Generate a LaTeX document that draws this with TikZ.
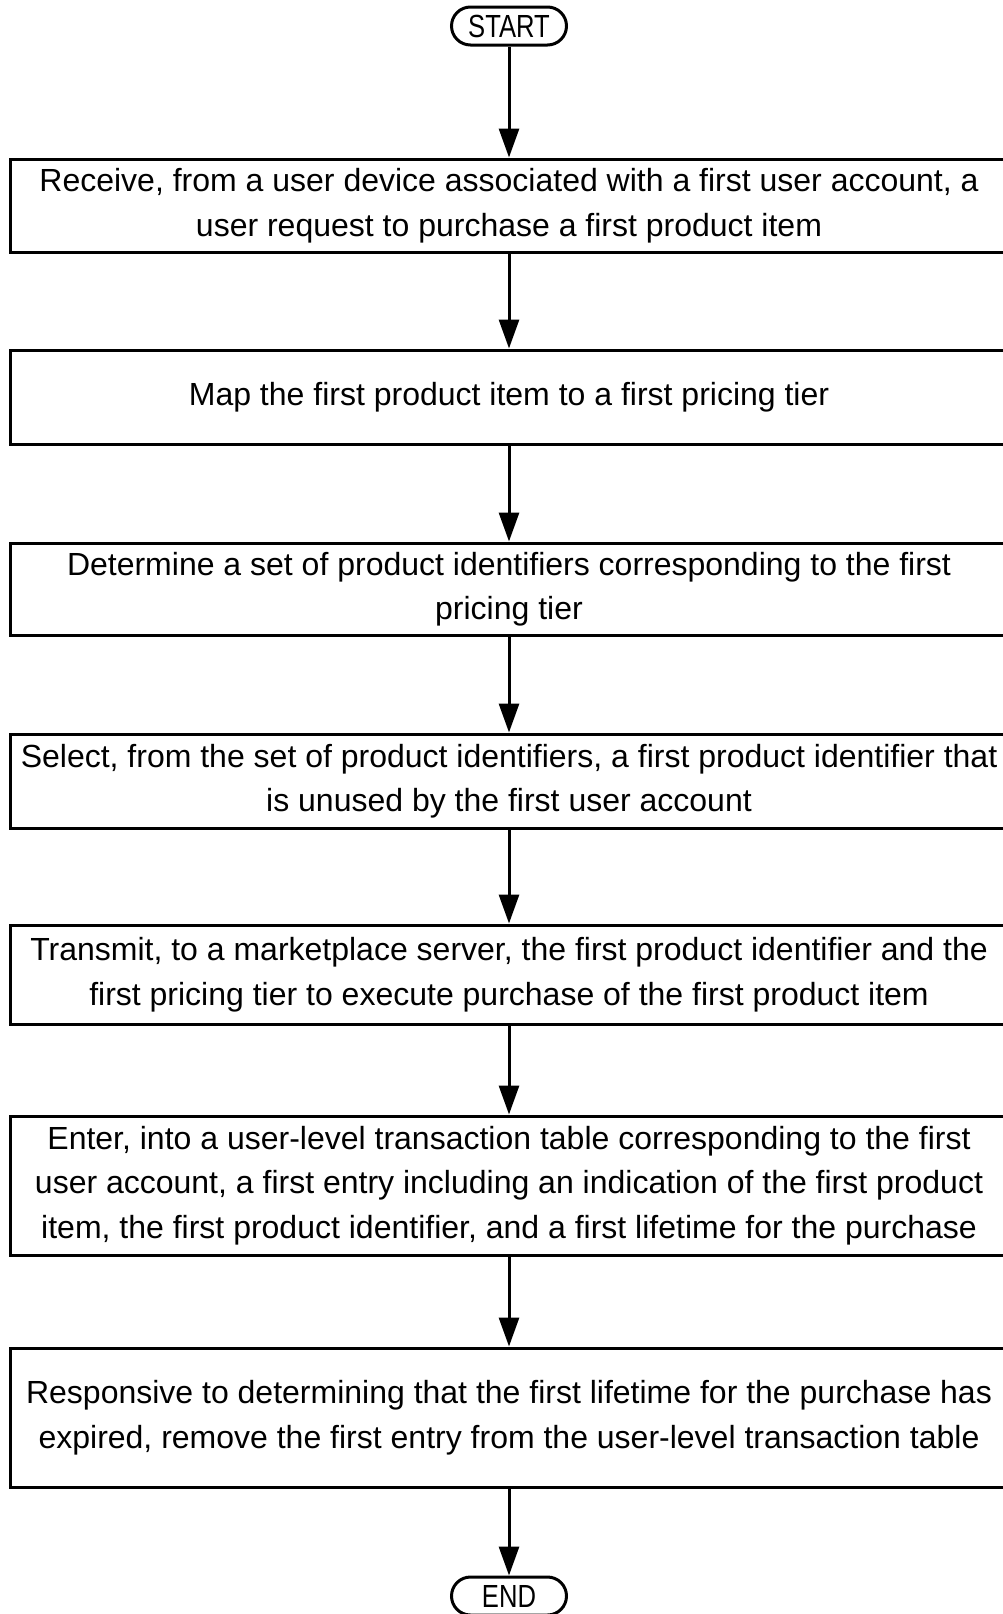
\documentclass[tikz,border=0pt]{standalone}
\usepackage{fontspec}
\setmainfont{Liberation Sans}
\newfontfamily\narrowfont[FakeStretch=0.8]{Liberation Sans}
\usetikzlibrary{arrows.meta}

\begin{document}
\begin{tikzpicture}[x=1pt, y=-1pt, line width=3pt,
	>={Triangle[length=29pt, width=20pt]},
	font=\fontsize{32}{44.5}\selectfont]
\tikzstyle{term} = [draw, rounded corners=19pt, minimum width=115pt, minimum height=38pt, inner sep=0pt, font=\narrowfont\fontsize{32}{32}\selectfont]
\tikzstyle{act} = [draw, minimum width=998pt, align=center, inner sep=0pt]
\useasboundingbox (0,0) rectangle (1003,1614);

\node[term] (start) at (509,26) {START};
\node[act, minimum height=93pt] (recv) at (509,205.5)
	{Receive, from a user device associated with a first user account, a\\
	user request to purchase a first product item}
	edge [<-] (start);
\node[act, minimum height=94pt] (map) at (509,397)
	{Map the first product item to a first pricing tier}
	edge [<-] (recv);
\node[act, minimum height=92pt] (det) at (509,589)
	{Determine a set of product identifiers corresponding to the first\\
	pricing tier}
	edge [<-] (map);
\node[act, minimum height=94pt] (sel) at (509,781)
	{Select, from the set of product identifiers, a first product identifier that\\
	is unused by the first user account}
	edge [<-] (det);
\node[act, minimum height=99pt] (trans) at (509,974.5)
	{Transmit, to a marketplace server, the first product identifier and the\\
	first pricing tier to execute purchase of the first product item}
	edge [<-] (sel);
\node[act, minimum height=139pt] (enter) at (509,1185.5)
	{Enter, into a user-level transaction table corresponding to the first\\
	user account, a first entry including an indication of the first product\\
	item, the first product identifier, and a first lifetime for the purchase}
	edge [<-] (trans);
\node[act, minimum height=139pt] (rem) at (509,1417.5)
	{Responsive to determining that the first lifetime for the purchase has\\
	expired, remove the first entry from the user-level transaction table}
	edge [<-] (enter);
\node[term] (end) at (509,1596) {END}
	edge [<-] (rem);
\end{tikzpicture}
\end{document}
